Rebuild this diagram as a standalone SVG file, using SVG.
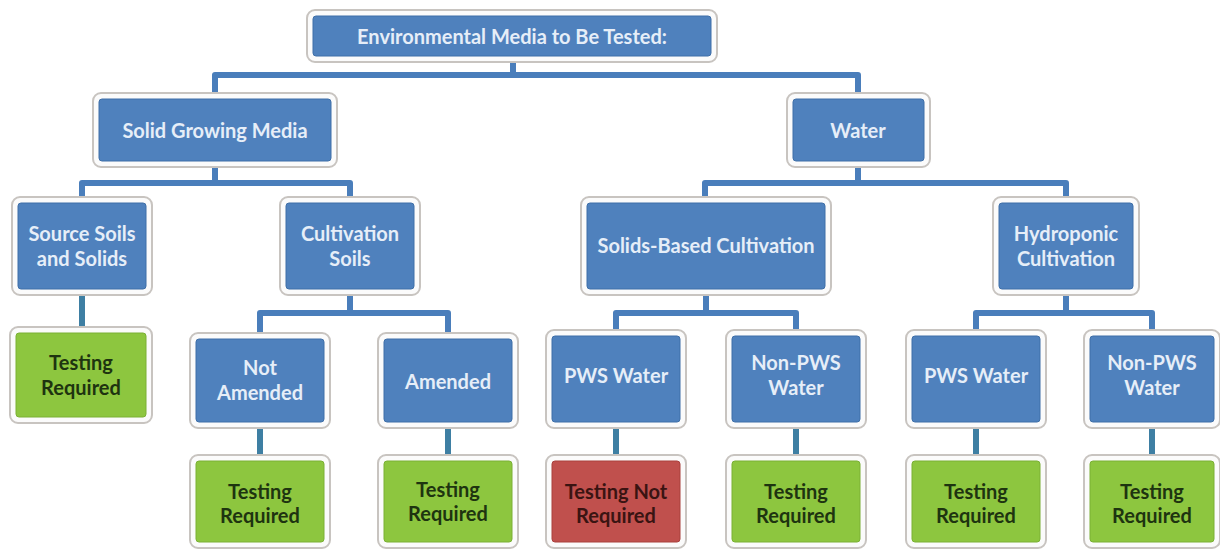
<svg xmlns="http://www.w3.org/2000/svg" width="1220" height="550" viewBox="0 0 1220 550">
<style>
.frame{fill:#fbfbfb;stroke:#c8c4c0;stroke-width:2}
.blue{fill:#4f81bd;stroke:#3f6fa8;stroke-width:1}
.green{fill:#8dc63f;stroke:#7ab034;stroke-width:1}
.red{fill:#c0504d;stroke:#a9403d;stroke-width:1}
text{font-family:Lato,"Open Sans","Liberation Sans",sans-serif;font-size:20px;font-weight:bold;text-anchor:middle;dominant-baseline:central}
.tb{fill:#e6eef8}
.tg{fill:#1e3410}
.tr{fill:#3a1412}
.conn{fill:none;stroke:#4a7ebb;stroke-width:6;stroke-linejoin:round}
.conn2{fill:none;stroke:#3e7fa3;stroke-width:6}
</style>
<rect width="1220" height="550" fill="#ffffff"/>
<g id="connectors">
<path class="conn" d="M513 62V75M215 93V75H858V93"/>
<path class="conn" d="M215 167V183M82 197V183H350V197"/>
<path class="conn" d="M858 167V183M705 197V183H1066V197"/>
<path class="conn" d="M350 295V313M260 333V313H448V333"/>
<path class="conn" d="M706 295V313M616 330V313H796V330"/>
<path class="conn" d="M1066 295V313M976 330V313H1152V330"/>
<path class="conn2" d="M82 295V327M260 428V455M448 428V455M616 428V455M796 428V455M976 428V455M1152 428V455"/>
</g>
<g id="root">
<rect class="frame" x="307" y="10" width="410" height="52" rx="8"/>
<rect class="blue" x="313" y="16" width="398" height="40" rx="3"/>
<text class="tb" x="512" y="36">Environmental Media to Be Tested:</text>
</g>
<g id="solid-growing-media">
<rect class="frame" x="93" y="93" width="244" height="74" rx="8"/>
<rect class="blue" x="99" y="99" width="232" height="62" rx="3"/>
<text class="tb" x="215" y="130">Solid Growing Media</text>
</g>
<g id="water">
<rect class="frame" x="787" y="93" width="143" height="74" rx="8"/>
<rect class="blue" x="793" y="99" width="131" height="62" rx="3"/>
<text class="tb" x="858" y="130">Water</text>
</g>
<g id="source-soils">
<rect class="frame" x="12" y="197" width="140" height="98" rx="8"/>
<rect class="blue" x="18" y="203" width="128" height="86" rx="3"/>
<text class="tb" x="82" y="233">Source Soils</text>
<text class="tb" x="82" y="258">and Solids</text>
</g>
<g id="cultivation-soils">
<rect class="frame" x="280" y="197" width="140" height="98" rx="8"/>
<rect class="blue" x="286" y="203" width="128" height="86" rx="3"/>
<text class="tb" x="350" y="233">Cultivation</text>
<text class="tb" x="350" y="258">Soils</text>
</g>
<g id="solids-based">
<rect class="frame" x="581" y="197" width="250" height="98" rx="8"/>
<rect class="blue" x="587" y="203" width="238" height="86" rx="3"/>
<text class="tb" x="706" y="245">Solids-Based Cultivation</text>
</g>
<g id="hydroponic">
<rect class="frame" x="993" y="197" width="146" height="98" rx="8"/>
<rect class="blue" x="999" y="203" width="134" height="86" rx="3"/>
<text class="tb" x="1066" y="233">Hydroponic</text>
<text class="tb" x="1066" y="258">Cultivation</text>
</g>
<g id="tr-source">
<rect class="frame" x="10" y="327" width="142" height="96" rx="8"/>
<rect class="green" x="16" y="333" width="130" height="84" rx="3"/>
<text class="tg" x="81" y="362">Testing</text>
<text class="tg" x="81" y="387">Required</text>
</g>
<g id="not-amended">
<rect class="frame" x="190" y="333" width="140" height="95" rx="8"/>
<rect class="blue" x="196" y="339" width="128" height="83" rx="3"/>
<text class="tb" x="260" y="367">Not</text>
<text class="tb" x="260" y="392">Amended</text>
</g>
<g id="amended">
<rect class="frame" x="378" y="333" width="140" height="95" rx="8"/>
<rect class="blue" x="384" y="339" width="128" height="83" rx="3"/>
<text class="tb" x="448" y="381">Amended</text>
</g>
<g id="pws-1">
<rect class="frame" x="546" y="330" width="140" height="98" rx="8"/>
<rect class="blue" x="552" y="336" width="128" height="86" rx="3"/>
<text class="tb" x="616" y="375">PWS Water</text>
</g>
<g id="nonpws-1">
<rect class="frame" x="726" y="330" width="140" height="98" rx="8"/>
<rect class="blue" x="732" y="336" width="128" height="86" rx="3"/>
<text class="tb" x="796" y="362">Non-PWS</text>
<text class="tb" x="796" y="387">Water</text>
</g>
<g id="pws-2">
<rect class="frame" x="906" y="330" width="140" height="98" rx="8"/>
<rect class="blue" x="912" y="336" width="128" height="86" rx="3"/>
<text class="tb" x="976" y="375">PWS Water</text>
</g>
<g id="nonpws-2">
<rect class="frame" x="1084" y="330" width="136" height="98" rx="8"/>
<rect class="blue" x="1090" y="336" width="124" height="86" rx="3"/>
<text class="tb" x="1152" y="362">Non-PWS</text>
<text class="tb" x="1152" y="387">Water</text>
</g>
<g id="tr-not-amended">
<rect class="frame" x="190" y="455" width="140" height="93" rx="8"/>
<rect class="green" x="196" y="461" width="128" height="81" rx="3"/>
<text class="tg" x="260" y="491">Testing</text>
<text class="tg" x="260" y="515">Required</text>
</g>
<g id="tr-amended">
<rect class="frame" x="378" y="455" width="140" height="93" rx="8"/>
<rect class="green" x="384" y="461" width="128" height="81" rx="3"/>
<text class="tg" x="448" y="489">Testing</text>
<text class="tg" x="448" y="513">Required</text>
</g>
<g id="tnr-pws-1">
<rect class="frame" x="546" y="455" width="140" height="93" rx="8"/>
<rect class="red" x="552" y="461" width="128" height="81" rx="3"/>
<text class="tr" x="616" y="491">Testing Not</text>
<text class="tr" x="616" y="515">Required</text>
</g>
<g id="tr-nonpws-1">
<rect class="frame" x="726" y="455" width="140" height="93" rx="8"/>
<rect class="green" x="732" y="461" width="128" height="81" rx="3"/>
<text class="tg" x="796" y="491">Testing</text>
<text class="tg" x="796" y="515">Required</text>
</g>
<g id="tr-pws-2">
<rect class="frame" x="906" y="455" width="140" height="93" rx="8"/>
<rect class="green" x="912" y="461" width="128" height="81" rx="3"/>
<text class="tg" x="976" y="491">Testing</text>
<text class="tg" x="976" y="515">Required</text>
</g>
<g id="tr-nonpws-2">
<rect class="frame" x="1084" y="455" width="136" height="93" rx="8"/>
<rect class="green" x="1090" y="461" width="124" height="81" rx="3"/>
<text class="tg" x="1152" y="491">Testing</text>
<text class="tg" x="1152" y="515">Required</text>
</g>
</svg>
